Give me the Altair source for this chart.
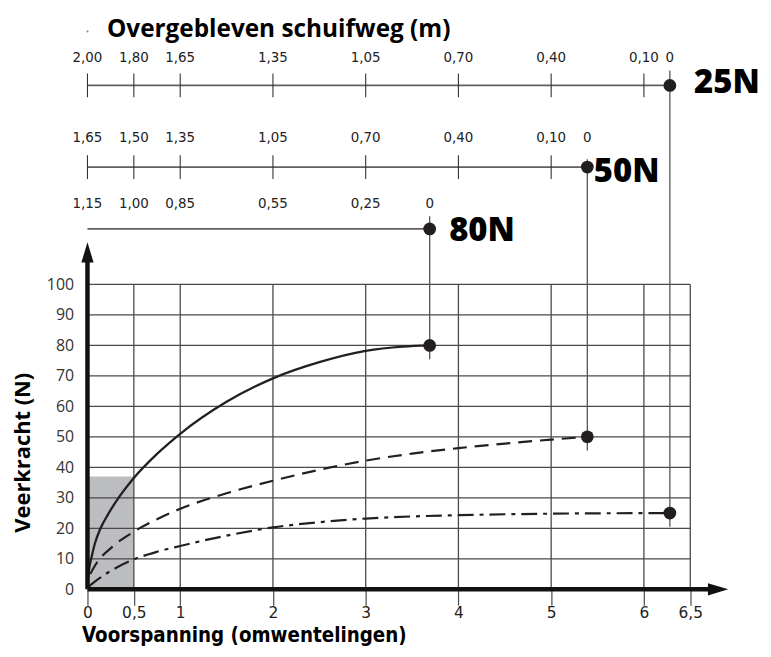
import altair as alt
import pandas as pd

# ---------------- data ----------------
# 80N curve (solid)
x80 = [0.003, 0.015, 0.044, 0.08, 0.135, 0.22, 0.34, 0.5, 0.75, 1.0, 1.5, 2.0, 2.5, 3.0, 3.4, 3.69]
y80 = [1.5, 6, 10.5, 15, 19.6, 24.5, 30.2, 36.5, 44.4, 51, 61.5, 69.2, 74.5, 78.2, 79.6, 80]
# 50N curve (dashed)
x50 = [0.03, 0.09, 0.27, 0.5, 0.75, 1.0, 1.5, 2.0, 2.5, 3.0, 3.5, 4.0, 4.5, 5.0, 5.39]
y50 = [5, 8.2, 14, 18.9, 23, 26.4, 31.5, 35.6, 39.2, 42.2, 44.5, 46.3, 47.8, 49.1, 50]
# 25N curve (dash-dot)
x25 = [0.01, 0.1, 0.25, 0.5, 0.75, 1.0, 1.5, 2.0, 2.5, 3.0, 3.5, 4.0, 5.0, 6.28]
y25 = [0.8, 3, 6, 9.8, 12.3, 14.2, 17.6, 20.3, 22.0, 23.2, 23.9, 24.3, 24.8, 25]

names = ["80N", "50N", "25N"]
end_x = [3.69, 5.39, 6.28]
end_y = [80, 50, 25]

# remaining travel scales (positions on the turns axis, labels in m)
pos25 = [0, 0.5, 1, 2, 3, 4, 5, 6, 6.28]
lab25 = ["2,00", "1,80", "1,65", "1,35", "1,05", "0,70", "0,40", "0,10", "0"]
pos50 = [0, 0.5, 1, 2, 3, 4, 5, 5.39]
lab50 = ["1,65", "1,50", "1,35", "1,05", "0,70", "0,40", "0,10", "0"]
pos80 = [0, 0.5, 1, 2, 3, 3.69]
lab80 = ["1,15", "1,00", "0,85", "0,55", "0,25", "0"]

x_ticks = [0, 0.5, 1, 2, 3, 4, 5, 6, 6.5]
y_ticks = [0, 10, 20, 30, 40, 50, 60, 70, 80, 90, 100]
x_grid = [0.5, 1, 2, 3, 4, 5, 6, 6.5]
y_grid = [10, 20, 30, 40, 50, 60, 70, 80, 90, 100]
shade_x = 0.5
shade_y = 37

# ---------------- layout constants (in data units) ----------------
ROW = {"25N": 165.3, "50N": 138.5, "80N": 118.2}
LAB = {"25N": 174.6, "50N": 148.5, "80N": 126.6}
TICK_H = 3.9
X_MAX = 6.5
Y_MAX = 100

INK = "#231f20"
GRID = "#4a4a4a"

XS = alt.Scale(domain=[0, 7.22], nice=False, zero=False)
YS = alt.Scale(domain=[0, 190], nice=False, zero=False)

X_AXIS = alt.Axis(
    values=x_ticks, labelExpr="replace(toString(datum.value), '.', ',')",
    tickSize=16, tickColor=GRID, tickWidth=1.2, labelPadding=0,
    domain=False, grid=False, labelFontSize=15.5, labelFont="DejaVu Sans",
    labelColor="#222", labelFlush=False, labelOverlap=False,
    title="Voorspanning (omwentelingen)", titleFontSize=20.5,
    titleFont="DejaVu Sans Condensed",
    titleFontWeight="bold", titleColor="#000", titleX=-6, titleY=53,
    titleAlign="left", titleBaseline="alphabetic")
Y_AXIS = alt.Axis(
    values=y_ticks, tickSize=0, domain=False, grid=False, labelPadding=14,
    labelFontSize=16, labelFont="Open Sans", labelColor="#333",
    title="Veerkracht (N)", titleFontSize=22, titleFont="Open Sans",
    titleFontWeight="bold", titleColor="#000", titleX=-65, titleY=445,
    titleAngle=270, titleAlign="center", titleBaseline="middle")


def X(f):
    return alt.X(f, type="quantitative", scale=XS, axis=X_AXIS,
                 title="Voorspanning (omwentelingen)")


def Y(f):
    return alt.Y(f, type="quantitative", scale=YS, axis=Y_AXIS,
                 title="Veerkracht (N)")


def X2(f):
    return alt.X2(f)


def Y2(f):
    return alt.Y2(f)


layers = []

# shaded rectangle
shade = pd.DataFrame({"x": [0], "x2": [shade_x], "y": [0], "y2": [shade_y]})
layers.append(alt.Chart(shade).mark_rect(color="#bcbdc1").encode(
    x=X("x"), x2=X2("x2"), y=Y("y"), y2=Y2("y2")))

# horizontal grid
hg = pd.DataFrame({"y": y_grid, "x": [0] * len(y_grid), "x2": [X_MAX] * len(y_grid)})
layers.append(alt.Chart(hg).mark_rule(color=GRID, strokeWidth=1.3).encode(
    x=X("x"), x2=X2("x2"), y=Y("y")))

# vertical grid
vg = pd.DataFrame({"x": x_grid, "y": [0] * len(x_grid), "y2": [Y_MAX] * len(x_grid)})
layers.append(alt.Chart(vg).mark_rule(color=GRID, strokeWidth=1.3).encode(
    x=X("x"), y=Y("y"), y2=Y2("y2")))

# curves
c80 = pd.DataFrame({"x": x80, "y": y80})
c50 = pd.DataFrame({"x": x50, "y": y50})
c25 = pd.DataFrame({"x": x25, "y": y25})
layers.append(alt.Chart(c80).mark_line(color=INK, strokeWidth=2.3, interpolate="monotone").encode(
    x=X("x"), y=Y("y")))
layers.append(alt.Chart(c50).mark_line(color=INK, strokeWidth=2.2, interpolate="monotone",
                                       strokeDash=[14, 8]).encode(x=X("x"), y=Y("y")))
layers.append(alt.Chart(c25).mark_line(color=INK, strokeWidth=2.2, interpolate="monotone",
                                       strokeDash=[16, 6, 4, 6]).encode(x=X("x"), y=Y("y")))

# vertical connectors from the top scales down to the curve end points
conn = pd.DataFrame({
    "x": end_x,
    "y": [ey - 4.5 for ey in end_y],
    "y2": [ROW["80N"] + 4.2, ROW["50N"] + 2.6, ROW["25N"] + 4.9],
})
layers.append(alt.Chart(conn).mark_rule(color="#555", strokeWidth=1.3).encode(
    x=X("x"), y=Y("y"), y2=Y2("y2")))

# horizontal travel scale lines
sl = pd.DataFrame({"x": [0, 0, 0], "x2": end_x, "y": [ROW[n] for n in names]})
layers.append(alt.Chart(sl).mark_rule(color="#606060", strokeWidth=1.8).encode(
    x=X("x"), x2=X2("x2"), y=Y("y")))

# ticks on 25N and 50N scales
tick_rows = []
for p in pos25[:-1]:
    tick_rows.append({"x": p, "y": ROW["25N"] - TICK_H, "y2": ROW["25N"] + TICK_H})
for p in pos50[:-1]:
    tick_rows.append({"x": p, "y": ROW["50N"] - TICK_H, "y2": ROW["50N"] + TICK_H})
ticks = pd.DataFrame(tick_rows)
layers.append(alt.Chart(ticks).mark_rule(color="#333", strokeWidth=1.1).encode(
    x=X("x"), y=Y("y"), y2=Y2("y2")))

# scale labels
lab_rows = []
for p, l in zip(pos25, lab25):
    lab_rows.append({"x": p, "y": LAB["25N"], "t": l})
for p, l in zip(pos50, lab50):
    lab_rows.append({"x": p, "y": LAB["50N"], "t": l})
for p, l in zip(pos80, lab80):
    lab_rows.append({"x": p, "y": LAB["80N"], "t": l})
labs = pd.DataFrame(lab_rows)
layers.append(alt.Chart(labs).mark_text(
    fontSize=15, font="DejaVu Sans Condensed, sans-serif",
    color="#222", align="center", baseline="middle").encode(
    x=X("x"), y=Y("y"), text="t:N"))

# dots
dots = pd.DataFrame({
    "x": end_x + end_x,
    "y": end_y + [ROW[n] for n in names],
})
layers.append(alt.Chart(dots).mark_circle(color=INK, opacity=1, size=165).encode(
    x=X("x"), y=Y("y")))

# tiny speck left of the top title
speck = pd.DataFrame({"x": [0], "y": [183]})
layers.append(alt.Chart(speck).mark_circle(color="#999", opacity=1, size=5).encode(
    x=X("x"), y=Y("y")))

# big force labels
big = pd.DataFrame({
    "x": [3.9, 5.46, 6.54],
    "y": [ROW["80N"] - 0.6, ROW["50N"] - 1.6, ROW["25N"] + 0.9],
    "t": names,
})
layers.append(alt.Chart(big).mark_text(
    fontSize=33, font="Open Sans", fontWeight=800, color="#000",
    align="left", baseline="middle").encode(x=X("x"), y=Y("y"), text="t:N"))

# top title
ttl = pd.DataFrame({"x": [0.21], "y": [181.1], "t": ["Overgebleven schuifweg (m)"]})
layers.append(alt.Chart(ttl).mark_text(
    fontSize=24.5, font="Open Sans", fontWeight="bold", color="#000",
    align="left", baseline="alphabetic").encode(x=X("x"), y=Y("y"), text="t:N"))

# thick axis lines
axh = pd.DataFrame({"x": [0], "x2": [6.72], "y": [0]})
axv = pd.DataFrame({"x": [0], "y": [0], "y2": [108]})
layers.append(alt.Chart(axh).mark_rule(color="#111", strokeWidth=4.5).encode(
    x=X("x"), x2=X2("x2"), y=Y("y")))
layers.append(alt.Chart(axv).mark_rule(color="#111", strokeWidth=4.5).encode(
    x=X("x"), y=Y("y"), y2=Y2("y2")))

# arrow heads
arr_r = pd.DataFrame({"x": [6.8], "y": [0]})
arr_u = pd.DataFrame({"x": [0], "y": [110.5]})
layers.append(alt.Chart(arr_r).mark_point(
    shape="M-1,-0.6L1,0L-1,0.6Z", filled=True, color="#111", opacity=1, size=420).encode(
    x=X("x"), y=Y("y")))
layers.append(alt.Chart(arr_u).mark_point(
    shape="M-0.6,1L0,-1L0.6,1Z", filled=True, color="#111", opacity=1, size=420).encode(
    x=X("x"), y=Y("y")))

chart = alt.layer(*layers).properties(
    width=674, height=583,
    autosize=alt.AutoSizeParams(type="none"),
    padding={"left": 80, "top": 0, "right": 6, "bottom": 58},
    view=alt.ViewBackground(stroke="transparent", strokeWidth=0),
).configure_view(stroke="transparent", strokeWidth=0).configure(background="white")

chart.save("out.html", embed_options={"renderer": "svg", "actions": False})
